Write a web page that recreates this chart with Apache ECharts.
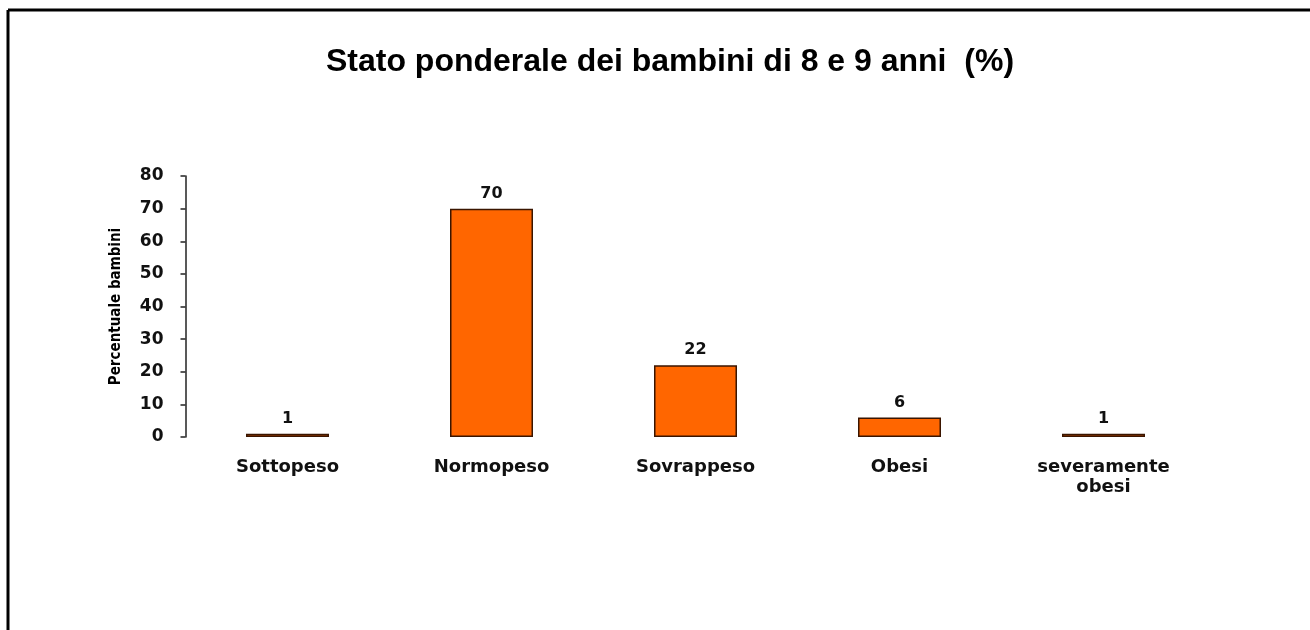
<!DOCTYPE html>
<html>
<head>
<meta charset="utf-8">
<script src="https://cdn.jsdelivr.net/npm/echarts@6/dist/echarts.min.js"></script>
<style>html,body{margin:0;padding:0;background:#fff;}#c{width:1310px;height:630px;}</style>
</head>
<body>
<div id="c"></div>
<script>
const titleText = 'Stato ponderale dei bambini di 8 e 9 anni  (%)';
const categories = ['Sottopeso', 'Normopeso', 'Sovrappeso', 'Obesi', 'severamente\nobesi'];
const values = [1, 70, 22, 6, 1];
const yAxisName = 'Percentuale bambini';
const yTicks = [0, 10, 20, 30, 40, 50, 60, 70, 80];

const chart = echarts.init(document.getElementById('c'), null, {renderer: 'canvas'});
chart.setOption({
  animation: false,
  backgroundColor: '#ffffff',
  title: {
    text: titleText,
    left: 665, top: 41, textAlign: 'center',
    textStyle: {fontFamily: 'Liberation Sans', fontWeight: 'bold', fontSize: 32, color: '#000'}
  },
  graphic: [
    {type: 'line', shape: {x1: 8, y1: 10, x2: 1310, y2: 10}, style: {stroke: '#000', lineWidth: 3}},
    {type: 'line', shape: {x1: 8, y1: 10, x2: 8, y2: 630}, style: {stroke: '#000', lineWidth: 3}}
  ],
  grid: {left: 185.5, right: 104.5, top: 176, bottom: 193, containLabel: false},
  xAxis: {
    type: 'category', data: categories,
    axisLine: {show: false}, axisTick: {show: false},
    axisLabel: {margin: 20, fontFamily: 'DejaVu Sans', fontWeight: 'bold', fontSize: 18, color: '#111', lineHeight: 20, interval: 0}
  },
  yAxis: {
    type: 'value', min: 0, max: 80, interval: 10,
    name: yAxisName, nameLocation: 'middle', nameGap: 62, nameRotate: 90,
    nameTextStyle: {fontFamily: "'DejaVu Sans Condensed', 'Liberation Sans Narrow', 'Liberation Sans', sans-serif", fontWeight: 'bold', fontSize: 15, color: '#000'},
    splitLine: {show: false},
    axisLine: {show: true, lineStyle: {color: '#222', width: 1.5}},
    axisTick: {show: true, length: 5, lineStyle: {color: '#222', width: 1.5}},
    axisLabel: {margin: 22, fontFamily: 'DejaVu Sans', fontWeight: 'bold', fontSize: 17, color: '#111',
      formatter: v => yTicks.includes(v) ? String(v) : ''}
  },
  series: [{
    type: 'bar', data: values, barWidth: 83,
    itemStyle: {color: '#ff6600', borderColor: '#3a1500', borderWidth: 1.5},
    label: {show: true, position: 'top', distance: 7, fontFamily: 'DejaVu Sans', fontWeight: 'bold', fontSize: 16, color: '#111'}
  }]
});
</script>
</body>
</html>
